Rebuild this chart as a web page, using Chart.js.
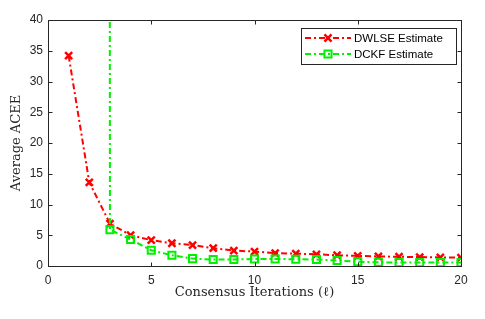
<!DOCTYPE html>
<html>
<head>
<meta charset="utf-8">
<script src="https://cdn.jsdelivr.net/npm/chart.js@4/dist/chart.umd.min.js"></script>
<style>
  html, body { margin: 0; padding: 0; background: #fff; }
</style>
</head>
<body>
<canvas id="aceeChart" width="485" height="319"></canvas>
<script>
// Data
const iterations = [1, 2, 3, 4, 5, 6, 7, 8, 9, 10, 11, 12, 13, 14, 15, 16, 17, 18, 19, 20];
const dwlse = [34.2, 13.6, 6.9, 5.0, 4.2, 3.7, 3.4, 2.9, 2.5, 2.35, 2.1, 2.0, 1.9, 1.75, 1.65, 1.55, 1.5, 1.45, 1.4, 1.35];
// DCKF blows up before iteration 3 (off the top of the axes)
const dckf = [null, 5000, 5.9, 4.3, 2.55, 1.75, 1.2, 1.05, 1.05, 1.15, 1.15, 1.1, 1.05, 0.9, 0.7, 0.6, 0.55, 0.55, 0.55, 0.55];
const xTicks = [0, 5, 10, 15, 20];
const yTicks = [0, 5, 10, 15, 20, 25, 30, 35, 40];

const AXIS = '#262626';
const RED = '#ff0000';
const GREEN = '#00f000';
const DASH = [6, 3, 2, 3];

function toPoints(values) {
    return iterations.map((x, i) => ({ x: x, y: values[i] }));
}

// MATLAB-style box with inward ticks on all four sides
const boxPlugin = {
    id: 'box',
    afterDraw(chart) {
        const { ctx, chartArea: a, scales } = chart;
        const L = Math.round(a.left) + 0.5, R = Math.round(a.right) + 0.5;
        const T = Math.round(a.top) + 0.5, B = Math.round(a.bottom) + 0.5;
        ctx.save();
        ctx.strokeStyle = AXIS;
        ctx.lineWidth = 1;
        ctx.strokeRect(L, T, R - L, B - T);
        ctx.beginPath();
        xTicks.forEach(v => {
            const px = Math.round(scales.x.getPixelForValue(v)) + 0.5;
            ctx.moveTo(px, B); ctx.lineTo(px, B - 4);
            ctx.moveTo(px, T); ctx.lineTo(px, T + 4);
        });
        yTicks.forEach(v => {
            const py = Math.round(scales.y.getPixelForValue(v)) + 0.5;
            ctx.moveTo(L, py); ctx.lineTo(L + 4, py);
            ctx.moveTo(R, py); ctx.lineTo(R - 4, py);
        });
        ctx.stroke();
        ctx.restore();
    }
};

// legend box in the upper right, line sample + marker like MATLAB
const legendPlugin = {
    id: 'matlabLegend',
    afterDraw(chart) {
        const { ctx, chartArea: a } = chart;
        const w = 155, h = 36;
        const x0 = Math.round(a.right) - 5 - w, y0 = Math.round(a.top) + 8;
        ctx.save();
        ctx.fillStyle = '#fff';
        ctx.fillRect(x0, y0, w, h);
        ctx.strokeStyle = '#262626';
        ctx.lineWidth = 1;
        ctx.strokeRect(x0 + 0.5, y0 + 0.5, w, h);
        chart.data.datasets.forEach((ds, i) => {
            const y = y0 + 10 + i * 16;
            ctx.save();
            ctx.strokeStyle = ds.borderColor;
            ctx.lineWidth = 2;
            ctx.setLineDash(DASH);
            ctx.beginPath();
            ctx.moveTo(x0 + 4, y); ctx.lineTo(x0 + 50, y);
            ctx.stroke();
            ctx.setLineDash([]);
            ctx.strokeStyle = ds.pointBorderColor;
            ctx.fillStyle = ds.pointBackgroundColor || ds.pointBorderColor;
            ctx.lineWidth = ds.pointBorderWidth;
            Chart.helpers.drawPoint(ctx, {
                pointStyle: ds.pointStyle, radius: ds.pointRadius,
                borderWidth: ds.pointBorderWidth, rotation: 0
            }, x0 + 27, y);
            ctx.restore();
            ctx.fillStyle = '#000';
            ctx.font = '11.5px "Liberation Sans", Arial, sans-serif';
            ctx.textBaseline = 'middle';
            ctx.fillText(ds.label, x0 + 53, y + 1);
        });
        ctx.restore();
    }
};

function initAceeChart() {
    const ctx = document.getElementById('aceeChart');
    if (!ctx) return;

    const data = {
        datasets: [{
            label: 'DWLSE Estimate',
            data: toPoints(dwlse),
            borderColor: RED,
            backgroundColor: RED,
            borderWidth: 2,
            borderDash: DASH,
            tension: 0,
            pointStyle: 'crossRot',
            pointRadius: 5,
            pointBorderWidth: 2.5,
            pointBorderColor: RED,
            pointBackgroundColor: RED,
            order: 2
        }, {
            label: 'DCKF Estimate',
            data: toPoints(dckf),
            borderColor: GREEN,
            backgroundColor: 'rgba(0,0,0,0)',
            borderWidth: 2,
            borderDash: DASH,
            tension: 0,
            pointStyle: 'rect',
            pointRadius: 5,
            pointBorderWidth: 2,
            pointBorderColor: GREEN,
            pointBackgroundColor: 'rgba(255,255,255,0)',
            order: 1
        }]
    };

    const tickFont = { family: '"Liberation Sans", Arial, sans-serif', size: 12 };
    const titleFont = { family: '"DejaVu Serif", "Liberation Serif", serif', size: 13 };

    new Chart(ctx, {
        type: 'line',
        data: data,
        plugins: [boxPlugin, legendPlugin],
        options: {
            responsive: false,
            animation: false,
            layout: { padding: { left: 5, top: 20, right: 24, bottom: 15 } },
            scales: {
                x: {
                    type: 'linear',
                    min: 0, max: 20,
                    afterBuildTicks: s => { s.ticks = xTicks.map(v => ({ value: v })); },
                    grid: { display: false, drawTicks: false },
                    border: { display: false },
                    ticks: { color: AXIS, font: tickFont, padding: 7, maxRotation: 0 },
                    title: { display: true, text: 'Consensus Iterations (\u2113)', color: AXIS, font: titleFont, padding: { top: 0, bottom: 4 } },
                    afterFit: s => { s.height = 38; }
                },
                y: {
                    min: 0, max: 40,
                    afterBuildTicks: s => { s.ticks = yTicks.map(v => ({ value: v })); },
                    grid: { display: false, drawTicks: false },
                    border: { display: false },
                    ticks: { color: AXIS, font: tickFont, padding: 5 },
                    title: { display: true, text: 'Average ACEE', color: AXIS, font: titleFont, padding: { top: 4, bottom: 4 } },
                    afterFit: s => { s.width = 43; }
                }
            },
            plugins: {
                legend: { display: false },
                tooltip: { enabled: false }
            }
        }
    });
}

document.addEventListener('DOMContentLoaded', function() {
    initAceeChart();
});
</script>
</body>
</html>
